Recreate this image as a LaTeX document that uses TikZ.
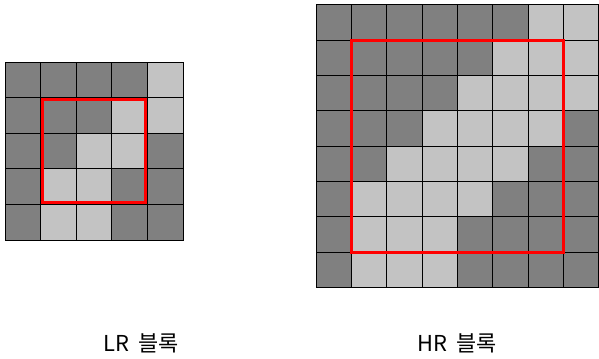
\documentclass[tikz,border=0pt]{standalone}
\usepackage{fontspec}
\newfontfamily\kofont{Noto Sans CJK KR}
\usetikzlibrary{positioning,fit}
\definecolor{cD}{HTML}{808080}
\definecolor{cL}{HTML}{C3C3C3}
\definecolor{cRed}{HTML}{FF0000}
\tikzset{
  cell/.style={draw=black, line width=0.8bp, inner sep=0pt, outer sep=0pt},
  zone/.style={draw=cRed, line width=3bp},
  caption/.style={font=\kofont\fontsize{22}{26}\selectfont, text=black, inner sep=0pt},
}

\begin{document}
\begin{tikzpicture}[x=1bp,y=-1bp]
\useasboundingbox (0,0) rectangle (599,358);
% ---------------- LR block (5x5)
\foreach \row [count=\r] in {{cD,cD,cD,cD,cL},{cD,cD,cD,cL,cL},{cD,cD,cL,cL,cD},{cD,cL,cL,cD,cD},{cD,cL,cL,cD,cD}}{
  \foreach \v [count=\c] in \row {
    \node[cell, fill=\v, minimum size=35.6bp] (l-\r-\c) at ({5+35.6*(\c-0.5)},{62+35.6*(\r-0.5)}) {};
  }
}
\draw[zone] ([xshift=2.2bp,yshift=-2.2bp]l-2-2.north west) rectangle ([xshift=-2.2bp,yshift=2.2bp]l-4-4.south east);

% ---------------- HR block (8x8)
\foreach \row [count=\r] in {{cD,cD,cD,cD,cD,cD,cL,cL},{cD,cD,cD,cD,cD,cL,cL,cL},{cD,cD,cD,cD,cL,cL,cL,cL},{cD,cD,cD,cL,cL,cL,cL,cD},{cD,cD,cL,cL,cL,cL,cD,cD},{cD,cL,cL,cL,cL,cD,cD,cD},{cD,cL,cL,cL,cD,cD,cD,cD},{cD,cL,cL,cL,cD,cD,cD,cD}}{
  \foreach \v [count=\c] in \row {
    \node[cell, fill=\v, minimum size=35.35bp] (h-\r-\c) at ({316+35.35*(\c-0.5)},{4.7+35.35*(\r-0.5)}) {};
  }
}
\draw[zone] (h-2-2.north west) rectangle (h-7-7.south east);

% ---------------- captions
\node[caption] (lrcap) at (141,343) {LR\hspace{0.4em}블록};
\node[caption] (hrcap) at (457,343) {HR\hspace{0.4em}블록};
\end{tikzpicture}
\end{document}
